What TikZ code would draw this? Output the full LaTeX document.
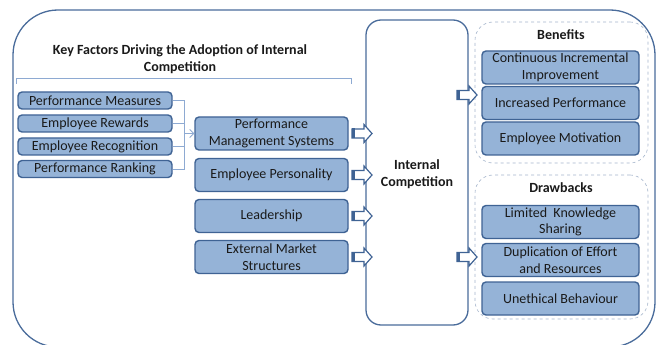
\documentclass[tikz,border=0pt]{standalone}
\usepackage{fontspec}
\setmainfont{Carlito}
\usetikzlibrary{arrows.meta}
\definecolor{boxfill}{HTML}{95B3D7}
\definecolor{boxdraw}{HTML}{3F6394}
\definecolor{framec}{HTML}{4A6C9B}
\definecolor{lightln}{HTML}{8EAAD2}
\definecolor{dashc}{HTML}{A5B5CC}
\definecolor{txt}{HTML}{1A1A1A}
\tikzset{
  fbox/.style={draw=boxdraw, fill=boxfill, line width=1.4pt, rounded corners=4pt, inner sep=0pt, align=center, text=txt, font=\fontsize{14}{16.5}\selectfont},
  smallbox/.style={fbox, minimum width=154pt, minimum height=17pt},
  midbox/.style={fbox, minimum width=153pt, minimum height=33pt},
  rbox/.style={fbox, minimum width=157pt, minimum height=33pt},
  group/.style={draw=dashc, dashed, line width=0.6pt, rounded corners=18pt, fill=white},
  ttl/.style={font=\bfseries\fontsize{14}{17}\selectfont, text=txt, align=center, inner sep=0pt},
  link/.style={draw=lightln, line width=0.9pt},
}
\newcommand{\blockarr}[2]{%
  \begin{scope}[shift={(#1,#2)}]
    \draw[boxdraw, fill=white, line width=1.2pt, line join=miter]
      (0,0) -- (-8,-9) -- (-8,-4.5) -- (-20,-4.5) -- (-20,4.5) -- (-8,4.5) -- (-8,9) -- cycle;
    \draw[boxdraw, line width=3pt] (-19,-5) -- (-19,5);
  \end{scope}}
\begin{document}
\begin{tikzpicture}[x=1pt,y=-1pt]
\useasboundingbox (0,0) rectangle (657,345);
% outer frame
\draw[framec, line width=1.3pt, rounded corners=45pt] (13,10) rectangle (655,347);
% title
\node[ttl] (title) at (180,59.5) {Key Factors Driving the Adoption of Internal\\Competition};
\draw[link, line width=0.7pt] (16,84) -- (16,78) -- (351,78) -- (351,84);
% left boxes
\node[smallbox] (pm) at (95,100.5) {Performance Measures};
\node[smallbox] (er) at (95,123.5) {Employee Rewards};
\node[smallbox] (ec) at (95,146.5) {Employee Recognition};
\node[smallbox] (pr) at (95,169) {Performance Ranking};
% middle boxes
\node[midbox] (pms) at (271.5,133.5) {Performance\\Management Systems};
\node[midbox] (ep) at (271.5,175) {Employee Personality};
\node[midbox] (ld) at (271.5,216) {Leadership};
\node[midbox] (ems) at (271.5,257) {External Market\\Structures};
% connectors
\coordinate (j) at (184,133.5);
\draw[link] (pm.east) -- (pm.east -| j) -- (pr.east -| j) -- (pr.east);
\draw[link] (er.east) -- (er.east -| j);
\draw[link] (ec.east) -- (ec.east -| j);
\draw[link, -{Straight Barb[length=4pt,width=8pt]}] (j) -- (pms.west);
% internal competition
\node[draw=framec, line width=1.3pt, rounded corners=15pt, fill=white, minimum width=102pt, minimum height=305pt, inner sep=0pt] (ic) at (417,172.5) {};
\node[ttl, text width=100pt] (ict) at (417,174) {Internal\\Competition};
% groups
\node[group, minimum width=173pt, minimum height=141pt] (ben) at (561.5,92.5) {};
\node[group, minimum width=173pt, minimum height=144pt] (drw) at (561.5,247) {};
\node[ttl] (bent) at (561,35) {Benefits};
\node[ttl] (drwt) at (561,188) {Drawbacks};
\node[rbox] (b1) at (560.5,67.5) {Continuous Incremental\\Improvement};
\node[rbox] (b2) at (560.5,103) {Increased Performance};
\node[rbox] (b3) at (560.5,138.5) {Employee Motivation};
\node[rbox] (d1) at (560.5,222) {Limited\ \ Knowledge\\Sharing};
\node[rbox] (d2) at (560.5,260) {Duplication of Effort\\and Resources};
\node[rbox] (d3) at (560.5,298.5) {Unethical Behaviour};
% block arrows
\blockarr{372}{133.5}
\blockarr{372}{175}
\blockarr{372}{216}
\blockarr{372}{257}
\blockarr{477}{95}
\blockarr{477}{257}
\end{tikzpicture}
\end{document}
